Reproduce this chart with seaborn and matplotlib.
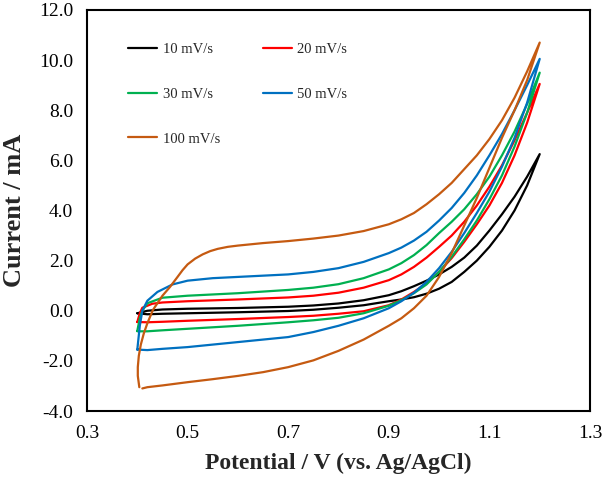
import numpy as np
import pandas as pd
import matplotlib
matplotlib.use("Agg")
import matplotlib.pyplot as plt
import seaborn as sns

# ---- data ----
scan_labels = ["10 mV/s", "20 mV/s", "30 mV/s", "50 mV/s", "100 mV/s"]
colors = ["#000000", "#FF0000", "#00B050", "#0070C0", "#C55A11"]

# 10 mV/s : anodic (up) then cathodic (down) branch
v10_up = [0.40, 0.42, 0.45, 0.50, 0.60, 0.70, 0.75, 0.80, 0.85, 0.90, 0.925, 0.95, 0.975, 1.00,
          1.025, 1.05, 1.075, 1.10, 1.125, 1.15, 1.175, 1.20]
i10_up = [-0.10, 0.00, 0.05, 0.08, 0.11, 0.16, 0.21, 0.29, 0.42, 0.62, 0.78, 0.98, 1.20, 1.45,
          1.75, 2.12, 2.60, 3.20, 3.85, 4.55, 5.35, 6.25]
v10_dn = [1.20, 1.175, 1.15, 1.125, 1.10, 1.075, 1.05, 1.025, 1.00, 0.975, 0.95, 0.925, 0.90,
          0.85, 0.80, 0.75, 0.70, 0.60, 0.50, 0.45, 0.42, 0.40]
i10_dn = [6.25, 5.00, 4.00, 3.20, 2.55, 2.00, 1.55, 1.15, 0.88, 0.68, 0.54, 0.45, 0.38,
          0.22, 0.12, 0.04, -0.01, -0.06, -0.10, -0.12, -0.14, -0.10]

# 20 mV/s
v20_up = [0.40, 0.405, 0.41, 0.43, 0.45, 0.50, 0.60, 0.70, 0.75, 0.80, 0.85, 0.90, 0.925, 0.95,
          0.975, 1.00, 1.025, 1.05, 1.075, 1.10, 1.125, 1.15, 1.175, 1.20]
i20_up = [-0.45, -0.10, 0.12, 0.28, 0.33, 0.38, 0.45, 0.53, 0.60, 0.72, 0.92, 1.22, 1.45, 1.75,
          2.12, 2.55, 3.00, 3.55, 4.20, 4.95, 5.80, 6.80, 7.90, 9.05]
v20_dn = [1.20, 1.175, 1.15, 1.125, 1.10, 1.075, 1.05, 1.025, 1.00, 0.975, 0.95, 0.925, 0.90,
          0.85, 0.80, 0.75, 0.70, 0.60, 0.50, 0.45, 0.42, 0.40]
i20_dn = [9.05, 7.50, 6.20, 5.10, 4.20, 3.45, 2.75, 2.10, 1.55, 1.10, 0.75, 0.45, 0.22,
          -0.02, -0.12, -0.20, -0.25, -0.33, -0.40, -0.44, -0.46, -0.45]

# 30 mV/s
v30_up = [0.40, 0.405, 0.41, 0.42, 0.45, 0.50, 0.60, 0.70, 0.75, 0.80, 0.85, 0.90, 0.925, 0.95,
          0.975, 1.00, 1.025, 1.05, 1.075, 1.10, 1.125, 1.15, 1.175, 1.20]
i30_up = [-0.80, -0.30, 0.00, 0.30, 0.52, 0.60, 0.70, 0.83, 0.92, 1.06, 1.30, 1.65, 1.90, 2.22,
          2.62, 3.10, 3.55, 4.05, 4.65, 5.35, 6.20, 7.15, 8.25, 9.50]
v30_dn = [1.20, 1.175, 1.15, 1.125, 1.10, 1.075, 1.05, 1.025, 1.00, 0.975, 0.95, 0.925, 0.90,
          0.85, 0.80, 0.75, 0.70, 0.60, 0.50, 0.45, 0.42, 0.40]
i30_dn = [9.50, 7.90, 6.55, 5.40, 4.45, 3.60, 2.85, 2.15, 1.55, 1.05, 0.70, 0.42, 0.20,
          -0.10, -0.28, -0.38, -0.46, -0.60, -0.72, -0.78, -0.82, -0.82]

# 50 mV/s
v50_up = [0.40, 0.405, 0.41, 0.42, 0.44, 0.47, 0.50, 0.55, 0.60, 0.70, 0.75, 0.80, 0.85, 0.90,
          0.925, 0.95, 0.975, 1.00, 1.025, 1.05, 1.075, 1.10, 1.125, 1.15, 1.175, 1.20]
i50_up = [-1.55, -0.60, 0.00, 0.40, 0.75, 1.05, 1.20, 1.30, 1.35, 1.45, 1.55, 1.70, 1.95, 2.30,
          2.52, 2.80, 3.15, 3.60, 4.10, 4.70, 5.40, 6.20, 7.05, 8.00, 9.00, 10.05]
v50_dn = [1.20, 1.175, 1.15, 1.125, 1.10, 1.075, 1.05, 1.025, 1.00, 0.975, 0.95, 0.925, 0.90,
          0.85, 0.80, 0.75, 0.70, 0.60, 0.50, 0.45, 0.42, 0.40]
i50_dn = [10.05, 8.30, 6.90, 5.75, 4.75, 3.90, 3.10, 2.35, 1.70, 1.15, 0.72, 0.38, 0.10,
          -0.30, -0.60, -0.85, -1.05, -1.25, -1.45, -1.52, -1.57, -1.55]

# 100 mV/s
v100_up = [0.404, 0.401, 0.401, 0.403, 0.407, 0.413, 0.42, 0.431, 0.44, 0.45, 0.465, 0.48, 0.49,
           0.50, 0.515, 0.53, 0.545, 0.56, 0.58, 0.60, 0.65, 0.70, 0.75, 0.80, 0.85, 0.90, 0.925,
           0.95, 0.975, 1.00, 1.025, 1.05, 1.075, 1.10, 1.125, 1.15, 1.175, 1.20]
i100_up = [-3.05, -2.60, -2.25, -1.80, -1.35, -0.90, -0.50, 0.03, 0.30, 0.60, 0.95, 1.35, 1.62,
           1.85, 2.08, 2.25, 2.38, 2.47, 2.55, 2.60, 2.70, 2.78, 2.88, 3.00, 3.18, 3.45, 3.65,
           3.90, 4.25, 4.65, 5.10, 5.65, 6.20, 6.85, 7.60, 8.50, 9.55, 10.70]
v100_dn = [1.20, 1.175, 1.15, 1.125, 1.10, 1.075, 1.05, 1.025, 1.00, 0.975, 0.95, 0.925, 0.90,
           0.85, 0.80, 0.75, 0.70, 0.65, 0.60, 0.55, 0.50, 0.45, 0.42, 0.41]
i100_dn = [10.70, 9.20, 8.00, 6.90, 5.70, 4.50, 3.40, 2.30, 1.35, 0.60, 0.10, -0.30, -0.60,
           -1.15, -1.60, -1.98, -2.25, -2.45, -2.60, -2.73, -2.85, -2.98, -3.05, -3.10]

x_ticks = [0.3, 0.5, 0.7, 0.9, 1.1, 1.3]
y_ticks = [-4, -2, 0, 2, 4, 6, 8, 10, 12]

series = [
    (v10_up + v10_dn, i10_up + i10_dn),
    (v20_up + v20_dn, i20_up + i20_dn),
    (v30_up + v30_dn, i30_up + i30_dn),
    (v50_up + v50_dn, i50_up + i50_dn),
    (v100_up + v100_dn, i100_up + i100_dn),
]
frames = []
for lab, (v, i) in zip(scan_labels, series):
    frames.append(pd.DataFrame({"V": v, "I": i, "scan": lab, "step": np.arange(len(v))}))
df = pd.concat(frames, ignore_index=True)

# ---- plot ----
sns.set_style("white")
plt.rcParams["font.family"] = ["Liberation Serif", "DejaVu Serif"]

fig = plt.figure(figsize=(6.03, 4.82), dpi=100)
ax = fig.add_axes([87 / 603, 71 / 482, 503 / 603, 401 / 482])

sns.lineplot(data=df, x="V", y="I", hue="scan", hue_order=scan_labels,
             palette=colors, sort=False, estimator=None, units="scan",
             linewidth=1.6, ax=ax, legend=False)
for ln in ax.get_lines():
    ln.set_solid_joinstyle("round")
    ln.set_solid_capstyle("round")

ax.set_xlim(0.3, 1.3)
ax.set_ylim(-4, 12)
ax.set_xticks(x_ticks)
ax.set_yticks(y_ticks)
ax.set_xticklabels([f"{t:.1f}" for t in x_ticks])
ax.set_yticklabels([f"{t:.1f}" for t in y_ticks])
ax.tick_params(direction="in", length=5, width=1.2, labelsize=14, colors="black")
ax.tick_params(axis="x", pad=10)
ax.tick_params(axis="y", pad=10)
for s in ax.spines.values():
    s.set_color("black")
    s.set_linewidth(1.5)

ax.set_xlabel("Potential / V (vs. Ag/AgCl)", fontsize=17, fontweight="bold", labelpad=8)
ax.set_ylabel("Current / mA", fontsize=19, fontweight="bold", labelpad=9)

lines = ax.get_lines()
order = [0, 2, 4, 1, 3]
leg = ax.legend([lines[k] for k in order], [scan_labels[k] for k in order],
                ncol=2, frameon=False, fontsize=10.5, loc="upper left",
                bbox_to_anchor=(0.056, 0.95), handlelength=2.0, handletextpad=0.35,
                labelspacing=2.15, columnspacing=2.95)

fig.savefig("out.png", dpi=100)
